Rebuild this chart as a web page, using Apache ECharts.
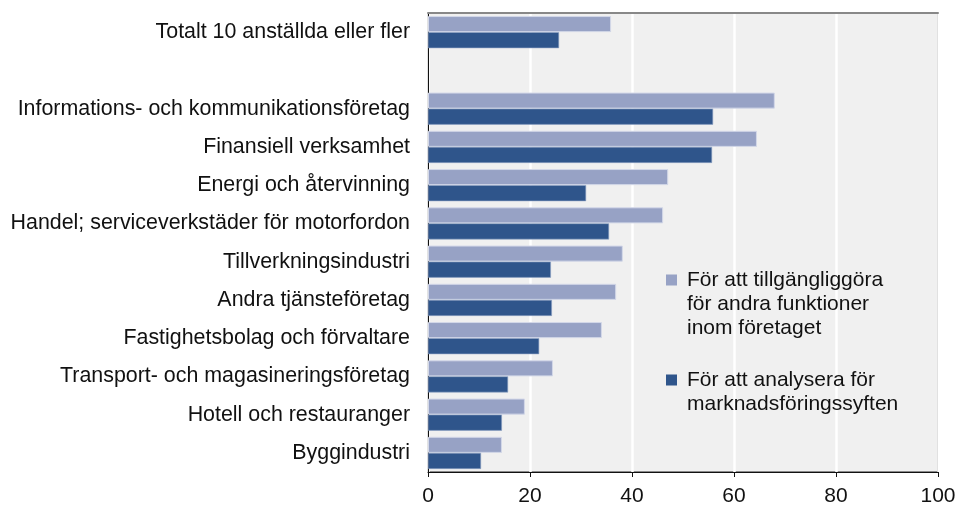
<!DOCTYPE html>
<html>
<head>
<meta charset="utf-8">
<script src="https://cdn.jsdelivr.net/npm/echarts@6/dist/echarts.min.js"></script>
<style>
html,body{margin:0;padding:0;background:#fff;}
#chart{width:956px;height:507px;}
</style>
</head>
<body>
<div id="chart"></div>
<script>
// branches, top to bottom; the empty one is the gap row
var categories = ['Totalt 10 anställda eller fler', '', 'Informations- och kommunikationsföretag',
  'Finansiell verksamhet', 'Energi och återvinning', 'Handel; serviceverkstäder för motorfordon',
  'Tillverkningsindustri', 'Andra tjänsteföretag', 'Fastighetsbolag och förvaltare',
  'Transport- och magasineringsföretag', 'Hotell och restauranger', 'Byggindustri'];
var sharing = [35.9, null, 68.0, 64.5, 47.1, 46.1, 38.2, 36.9, 34.1, 24.5, 19.0, 14.5];
var marketing = [25.7, null, 55.9, 55.7, 31.0, 35.5, 24.1, 24.3, 21.8, 15.7, 14.5, 10.4];
var xTicks = [0, 20, 40, 60, 80, 100];
var nameSharing = 'För att tillgängliggöra\nför andra funktioner\ninom företaget';
var nameMarketing = 'För att analysera för\nmarknadsföringssyften';

var font = 'Liberation Sans, Arial, sans-serif';

// legend text is centred on the icon, so pad with blank lines above
// to put the icon beside the first line
function legendText(name) {
  var n = name.split('\n').length;
  return new Array(n).join('\n') + name;
}

function legendAt(top, name) {
  return {
    orient: 'vertical',
    left: 661, top: top,
    itemWidth: 11, itemHeight: 11,
    icon: 'rect',
    itemStyle: { borderWidth: 0 },
    formatter: legendText,
    textStyle: { fontSize: 21, lineHeight: 24, color: '#111', fontFamily: font, padding: [0, 0, 0, 5] },
    data: [name]
  };
}

var myChart = echarts.init(document.getElementById('chart'));
var option = {
  animation: false,
  textStyle: { fontFamily: font },
  grid: {
    left: 428, right: 18, top: 13, bottom: 35,
    outerBoundsMode: 'none',
    show: true,
    backgroundColor: '#f0f0f0',
    borderColor: '#222',
    borderWidth: 1
  },
  legend: [legendAt(215, nameSharing), legendAt(339, nameMarketing)],
  xAxis: [{
    type: 'value',
    min: xTicks[0],
    max: xTicks[xTicks.length - 1],
    interval: 20,
    axisLine: { show: true, lineStyle: { color: '#111', width: 1 } },
    axisTick: { show: true, length: 5, lineStyle: { color: '#111' } },
    axisLabel: { fontSize: 21, color: '#111', margin: 14, fontFamily: font },
    splitLine: { show: true, lineStyle: { color: '#ffffff', width: 2.5 } }
  }, {
    // grey top edge of the frame
    type: 'value',
    position: 'top',
    min: xTicks[0],
    max: xTicks[xTicks.length - 1],
    axisLine: { show: true, lineStyle: { color: '#888', width: 2 } },
    axisTick: { show: false },
    axisLabel: { show: false },
    splitLine: { show: false }
  }],
  yAxis: {
    type: 'category',
    inverse: true,
    data: categories,
    axisLine: { show: true, lineStyle: { color: '#111', width: 1 } },
    axisTick: { show: false },
    axisLabel: { fontSize: 21.4, color: '#111', margin: 18, fontFamily: font }
  },
  series: [{
    name: nameSharing,
    type: 'bar',
    data: sharing,
    barGap: '0%',
    barCategoryGap: '16%',
    itemStyle: { color: '#97a2c5', borderColor: '#d3d8e8', borderWidth: 1 }
  }, {
    name: nameMarketing,
    type: 'bar',
    data: marketing,
    itemStyle: { color: '#2f558b', borderColor: '#8fa3c4', borderWidth: 0.6 }
  }]
};
myChart.setOption(option);
</script>
</body>
</html>
